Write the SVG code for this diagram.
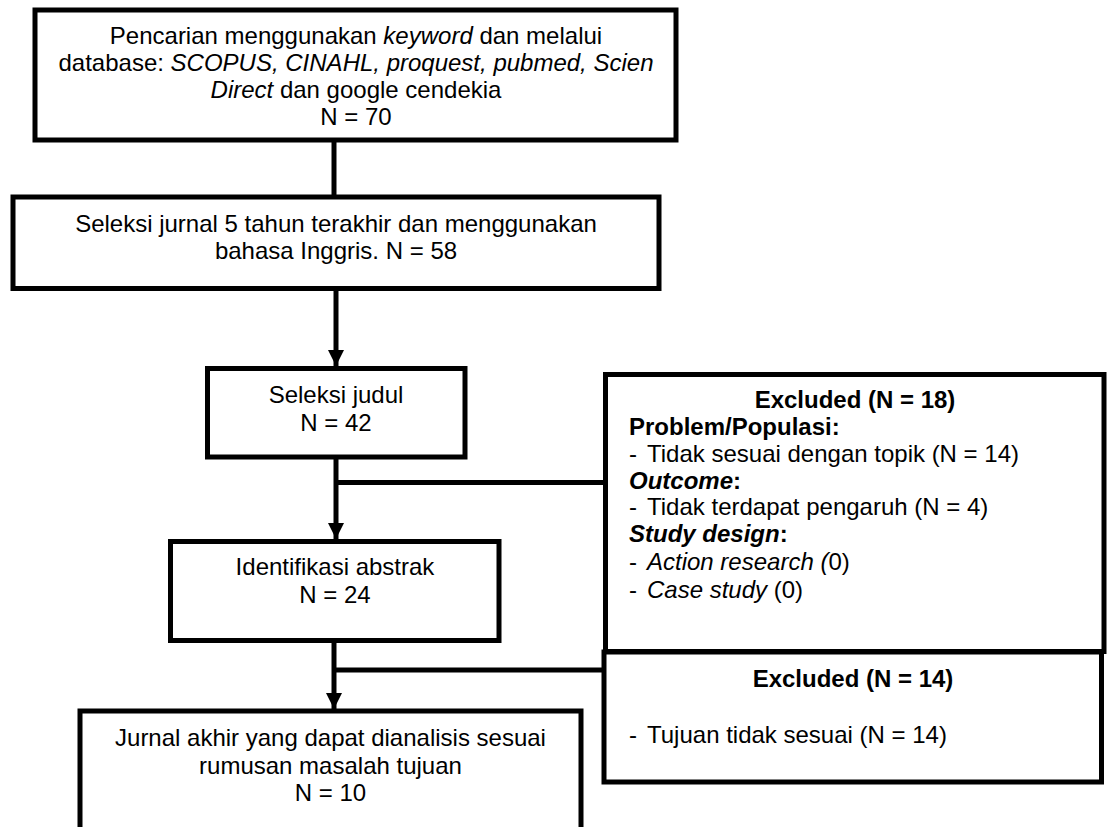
<svg xmlns="http://www.w3.org/2000/svg" width="1110" height="827" viewBox="0 0 1110 827">
<style>
.box{fill:#fff;stroke:#000;stroke-width:5}
.ln{fill:none;stroke:#000;stroke-width:5}
text{font-family:"Liberation Sans",Arial,sans-serif;font-size:24px;fill:#000}
.c{text-anchor:middle}
.i{font-style:italic}
.b{font-weight:bold}
</style>
<defs>
<marker id="ah" markerWidth="16" markerHeight="16" viewBox="0 0 16 16" refX="16" refY="8" orient="auto" markerUnits="userSpaceOnUse">
<path d="M0,0 L16,8 L0,16 Z" fill="#000"/>
</marker>
</defs>
<g id="connectors">
<line class="ln" x1="334" y1="140" x2="334" y2="197"/>
<line class="ln" x1="336" y1="288" x2="336" y2="366" marker-end="url(#ah)"/>
<line class="ln" x1="336" y1="457" x2="336" y2="539" marker-end="url(#ah)"/>
<line class="ln" x1="336" y1="482.5" x2="605" y2="482.5"/>
<line class="ln" x1="334" y1="636" x2="334" y2="709" marker-end="url(#ah)"/>
<line class="ln" x1="322" y1="635.5" x2="336" y2="635.5"/>
<line class="ln" x1="336" y1="670" x2="604" y2="670"/>
</g>
<g id="n1">
<rect class="box" x="35" y="10" width="641" height="130"/>
<text class="c" x="356" y="44">Pencarian menggunakan <tspan class="i">keyword</tspan> dan melalui</text>
<text class="c" x="356" y="71">database: <tspan class="i">SCOPUS, CINAHL, proquest, pubmed, Scien</tspan></text>
<text class="c" x="356" y="98"><tspan class="i">Direct</tspan> dan google cendekia</text>
<text class="c" x="356" y="125">N = 70</text>
</g>
<g id="n2">
<rect class="box" x="13" y="197" width="646" height="91.5"/>
<text class="c" x="336" y="232">Seleksi jurnal 5 tahun terakhir dan menggunakan</text>
<text class="c" x="336" y="259">bahasa Inggris. N = 58</text>
</g>
<g id="n3">
<rect class="box" x="207.5" y="368.5" width="257.5" height="88.5"/>
<text class="c" x="336" y="403">Seleksi judul</text>
<text class="c" x="336" y="431">N = 42</text>
</g>
<g id="n4">
<rect class="box" x="170.5" y="541.5" width="328.5" height="99"/>
<text class="c" x="335" y="575">Identifikasi abstrak</text>
<text class="c" x="335" y="603">N = 24</text>
</g>
<g id="n5">
<rect class="box" x="80" y="711" width="501" height="140"/>
<text class="c" x="330.5" y="746">Jurnal akhir yang dapat dianalisis sesuai</text>
<text class="c" x="330.5" y="774">rumusan masalah tujuan</text>
<text class="c" x="330.5" y="801">N = 10</text>
</g>
<g id="ex1">
<rect class="box" x="605.5" y="374.5" width="498.5" height="277"/>
<text class="c b" x="855" y="408">Excluded (N = 18)</text>
<text class="b" x="629" y="435">Problem/Populasi:</text>
<text x="629" y="462">-</text><text x="647" y="462">Tidak sesuai dengan topik (N = 14)</text>
<text class="b" x="629" y="489"><tspan class="i">Outcome</tspan>:</text>
<text x="629" y="515">-</text><text x="647" y="515">Tidak terdapat pengaruh (N = 4)</text>
<text class="b" x="629" y="542"><tspan class="i">Study design</tspan>:</text>
<text x="629" y="570">-</text><text x="647" y="570"><tspan class="i">Action research (</tspan>0)</text>
<text x="629" y="598">-</text><text x="647" y="598"><tspan class="i">Case study</tspan> (0)</text>
</g>
<g id="ex2">
<rect class="box" x="604" y="652" width="497.5" height="130"/>
<text class="c b" x="853" y="687">Excluded (N = 14)</text>
<text x="629" y="743">-</text><text x="647" y="743">Tujuan tidak sesuai (N = 14)</text>
</g>
</svg>
